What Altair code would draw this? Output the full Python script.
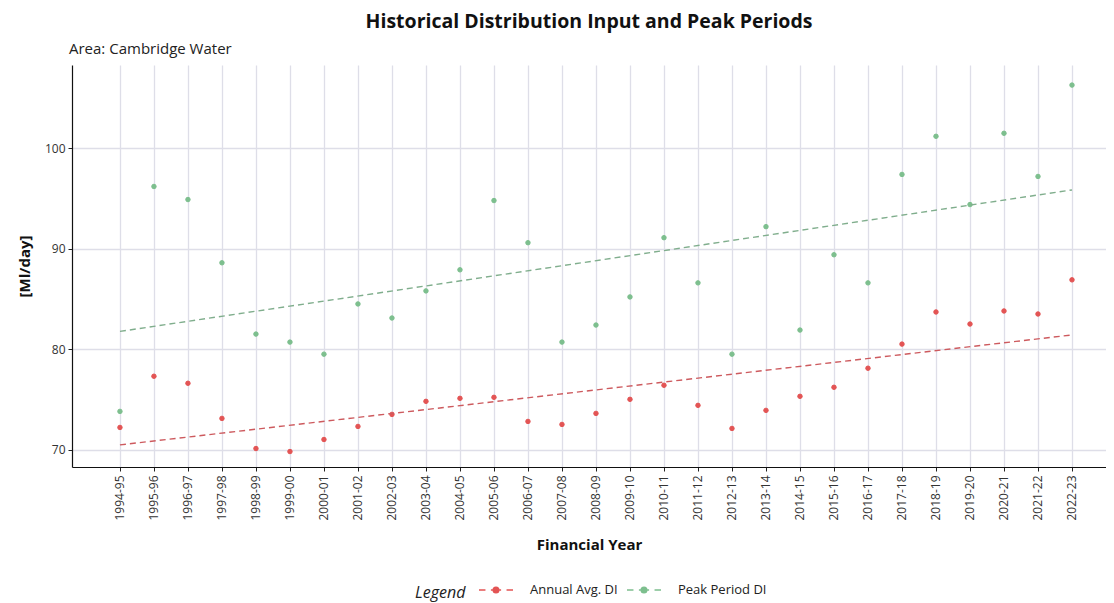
import altair as alt
import pandas as pd

years = ["1994-95", "1995-96", "1996-97", "1997-98", "1998-99", "1999-00", "2000-01",
         "2001-02", "2002-03", "2003-04", "2004-05", "2005-06", "2006-07", "2007-08",
         "2008-09", "2009-10", "2010-11", "2011-12", "2012-13", "2013-14", "2014-15",
         "2015-16", "2016-17", "2017-18", "2018-19", "2019-20", "2020-21", "2021-22",
         "2022-23"]

annual_avg = [72.2, 77.3, 76.6, 73.1, 70.1, 69.8, 71.0, 72.3, 73.5, 74.8,
              75.1, 75.2, 72.8, 72.5, 73.6, 75.0, 76.4, 74.4, 72.1, 73.9,
              75.3, 76.2, 78.1, 80.5, 83.7, 82.5, 83.8, 83.5, 86.9]

peak = [73.8, 96.2, 94.9, 88.6, 81.5, 80.7, 79.5, 84.5, 83.1, 85.8,
        87.9, 94.8, 90.6, 80.7, 82.4, 85.2, 91.1, 86.6, 79.5, 92.2,
        81.9, 89.4, 86.6, 97.4, 101.2, 94.4, 101.5, 97.2, 106.3]

series_names = ["Annual Avg. DI", "Peak Period DI"]
point_colors = ["#E35454", "#7DBF8E"]
line_colors = ["#CD5A5E", "#80AE8D"]

rows = []
for i, y in enumerate(years):
    rows.append({"idx": i, "year": y, "series": series_names[0], "value": annual_avg[i]})
    rows.append({"idx": i, "year": y, "series": series_names[1], "value": peak[i]})
df = pd.DataFrame(rows)

FONT = "Open Sans"
label_array = "[" + ",".join("'" + y + "'" for y in years) + "]"

x_enc = alt.X("idx:Q",
              scale=alt.Scale(domain=[-1.41, 29.0], nice=False, zero=False),
              axis=alt.Axis(title="Financial Year", values=list(range(len(years))),
                            tickCount=60,
                            labelExpr=label_array + "[datum.value]",
                            labelAngle=270, labelAlign="right", labelBaseline="middle",
                            labelFontSize=12, labelColor="#333333", labelPadding=4,
                            labelOverlap=False, labelFlush=False,
                            tickSize=4, tickColor="#222222",
                            titleFontSize=15, titleFontWeight="bold", titleColor="#111111",
                            titlePadding=17, domainColor="#111111", domainWidth=1.2,
                            gridColor="#DEDEE8", gridWidth=1.3))
y_enc = alt.Y("value:Q",
              scale=alt.Scale(domain=[68.26, 108.3], nice=False, zero=False),
              axis=alt.Axis(title="[Ml/day]", values=[70, 80, 90, 100],
                            labelFontSize=12, labelColor="#333333", labelPadding=3,
                            tickSize=4, tickColor="#222222",
                            titleFontSize=15, titleFontWeight="bold", titleColor="#111111",
                            titlePadding=12, domainColor="#111111", domainWidth=1.2,
                            gridColor="#DEDEE8", gridWidth=1.3))

legend = alt.Legend(title="Legend", titleFontStyle="italic", titleFontWeight="normal",
                    titleFontSize=16, titleColor="#222222", titleOrient="left",
                    titleAnchor="middle", titleBaseline="top",
                    titlePadding=12,
                    orient="none", legendX=343, legendY=507, direction="horizontal",
                    symbolType="M-1,0H-0.62M-0.3,0H0.3M0.62,0H1M-0.17,0A0.17,0.17 0 1,0 0.17,0A0.17,0.17 0 1,0 -0.17,0",
                    symbolSize=1156, symbolStrokeWidth=1.3,
                    labelFontSize=13, labelColor="#222222", labelOffset=16,
                    columnPadding=6)

points = alt.Chart(df).mark_point(filled=True, size=20, strokeWidth=1, opacity=1).encode(
    x=x_enc, y=y_enc,
    fill=alt.Fill("series:N", scale=alt.Scale(domain=series_names, range=point_colors), legend=legend),
    stroke=alt.Stroke("series:N", scale=alt.Scale(domain=series_names, range=point_colors), legend=legend),
)

trend = alt.Chart(df).transform_regression(
    "idx", "value", groupby=["series"], extent=[0, len(years) - 1]
).mark_line(strokeDash=[6, 4], strokeWidth=1.4).encode(
    x="idx:Q", y="value:Q",
    color=alt.Color("series:N", scale=alt.Scale(domain=series_names, range=line_colors), legend=None),
)

subtitle = alt.Chart(alt.Data(values=[{"t": "Area: Cambridge Water"}])).mark_text(
    align="left", baseline="middle", fontSize=15, font=FONT, color="#222222", dx=-3
).encode(x=alt.value(0), y=alt.value(-16), text="t:N")

chart = alt.layer(points, trend, subtitle).resolve_scale(color="independent").properties(
    width=1034, height=402,
    autosize=alt.AutoSizeParams(type="none"),
    padding={"left": 64, "top": 57, "right": 0, "bottom": 136},
    title=alt.TitleParams("Historical Distribution Input and Peak Periods",
                          anchor="middle", frame="group", fontSize=19.5, fontWeight="bold",
                          color="#111111", font=FONT, offset=10),
).configure(font=FONT).configure_view(stroke=None).configure_axis(labelFont=FONT, titleFont=FONT)

chart.save("out.html", embed_options={"renderer": "svg", "actions": False})
